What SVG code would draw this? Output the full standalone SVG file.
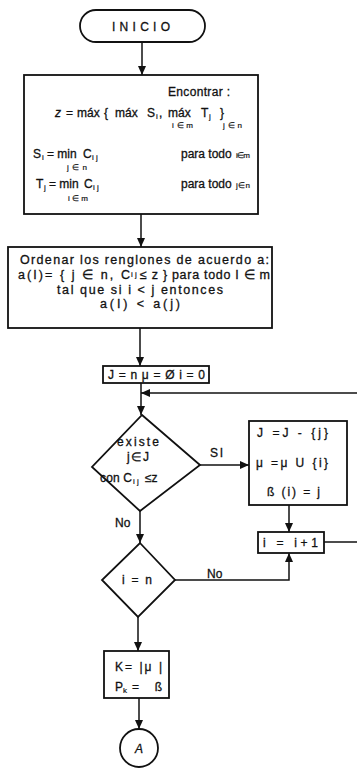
<svg xmlns="http://www.w3.org/2000/svg" width="357" height="769" viewBox="0 0 357 769">
<defs>
<marker id="arrow" markerWidth="9" markerHeight="8" refX="9" refY="4" orient="auto" markerUnits="userSpaceOnUse">
<path d="M0,0 L9,4 L0,8 z" fill="#111"/>
</marker>
<style>
.shape{fill:#fff;stroke:#111;stroke-width:1.8}
.line{fill:none;stroke:#111;stroke-width:1.5}
text{font-family:"Liberation Sans",Arial,sans-serif;font-size:12px;fill:#111;stroke:#111;stroke-width:0.3}
.sm{font-size:8px;stroke-width:0.2}
.c{text-anchor:middle}
.it{font-style:italic}
.big{font-size:12.5px}
</style>
</defs>
<rect width="357" height="769" fill="#fff"/>

<!-- connectors -->
<g id="connectors">
<line class="line" x1="142" y1="42" x2="142" y2="75" marker-end="url(#arrow)"/>
<line class="line" x1="141" y1="214" x2="141" y2="247" marker-end="url(#arrow)"/>
<line class="line" x1="140" y1="328" x2="140" y2="366" marker-end="url(#arrow)"/>
<line class="line" x1="141" y1="383" x2="141" y2="415" marker-end="url(#arrow)"/>
<line class="line" x1="357" y1="393" x2="141" y2="393" marker-end="url(#arrow)"/>
<line class="line" x1="200" y1="465" x2="249" y2="465" marker-end="url(#arrow)"/>
<line class="line" x1="289" y1="505" x2="289" y2="532" marker-end="url(#arrow)"/>
<line class="line" x1="324" y1="542" x2="357" y2="542"/>
<line class="line" x1="140" y1="511" x2="140" y2="543" marker-end="url(#arrow)"/>
<polyline class="line" points="175,580 289,580 289,553" marker-end="url(#arrow)"/>
<line class="line" x1="138" y1="617" x2="138" y2="651" marker-end="url(#arrow)"/>
<line class="line" x1="139" y1="698" x2="139" y2="729" marker-end="url(#arrow)"/>
<text x="210" y="457" textLength="13" lengthAdjust="spacing">SI</text>
<text x="115" y="527">No</text>
<text x="207" y="578">No</text>
</g>

<g id="inicio">
<rect class="shape" x="80" y="10" width="125" height="32" rx="16"/>
<text x="112" y="31" textLength="58" lengthAdjust="spacing">INICIO</text>
</g>

<g id="encontrar">
<rect class="shape" x="24" y="75" width="234" height="139"/>
<text x="168" y="96" textLength="62" lengthAdjust="spacing">Encontrar :</text>
<!-- z = max { max S_i , max T_j } -->
<text class="it" x="55" y="117">z</text>
<text x="66" y="117">=</text>
<text x="77" y="117">máx</text>
<text x="104" y="117">{</text>
<text x="115" y="117">máx</text>
<text x="147" y="117">S</text>
<text class="sm" x="156" y="119">i</text>
<text x="159" y="117">,</text>
<text x="168" y="117">máx</text>
<text x="201" y="117">T</text>
<text class="sm" x="209" y="119">j</text>
<text x="220" y="117">}</text>
<text class="sm" x="172" y="128" textLength="21" lengthAdjust="spacing">i∈m</text>
<text class="sm" x="223" y="128" textLength="19" lengthAdjust="spacing">j∈n</text>
<!-- S_i -->
<text x="33" y="158">S</text>
<text class="sm" x="42" y="160">i</text>
<text x="47" y="158">= min</text>
<text x="83" y="158">C</text>
<text class="sm" x="92" y="160">i j</text>
<text class="sm" x="67" y="170" textLength="20" lengthAdjust="spacing">j∈n</text>
<text x="181" y="158">para todo</text>
<text class="sm" x="236" y="158" textLength="14" lengthAdjust="spacing">i∈m</text>
<!-- T_j -->
<text x="36" y="188">T</text>
<text class="sm" x="44" y="190">j</text>
<text x="49" y="188">= min</text>
<text x="84" y="188">C</text>
<text class="sm" x="93" y="190">i j</text>
<text class="sm" x="68" y="201" textLength="20" lengthAdjust="spacing">i∈m</text>
<text x="181" y="188">para todo</text>
<text class="sm" x="236" y="188" textLength="14" lengthAdjust="spacing">j∈n</text>
</g>

<g id="ordenar">
<rect class="shape" x="8" y="247" width="264" height="81"/>
<text class="big" x="20" y="264" textLength="249" lengthAdjust="spacing">Ordenar los renglones de acuerdo a:</text>
<text class="big" x="18" y="279" textLength="112" lengthAdjust="spacing">a(I)= { j ∈ n, C</text>
<text class="sm" x="131" y="277">i j</text>
<text class="big" x="140" y="279" textLength="130" lengthAdjust="spacing">≤ z } para todo I ∈ m</text>
<text class="big" x="57" y="294" textLength="166" lengthAdjust="spacing">tal que si i &lt; j  entonces</text>
<text class="big" x="100" y="308" textLength="80" lengthAdjust="spacing">a(I)  &lt;  a(j)</text>
</g>

<g id="init">
<rect class="shape" x="103" y="366" width="106" height="17"/>
<text x="108" y="379" textLength="97" lengthAdjust="spacing">J = n  μ = Ø  i = 0</text>
</g>

<g id="existe">
<polygon class="shape" points="142,415 200,465 140,511 92,467"/>
<text x="117" y="446" textLength="42" lengthAdjust="spacing">existe</text>
<text x="127" y="461" textLength="22" lengthAdjust="spacing">j ∈ J</text>
<text x="100" y="482" textLength="32" lengthAdjust="spacing">con C</text>
<text class="sm" x="133" y="484">i j</text>
<text x="145" y="482">≤z</text>
</g>

<g id="update">
<rect class="shape" x="249" y="421" width="98" height="84"/>
<text x="257" y="437" textLength="71" lengthAdjust="spacing">J =J   - {j}</text>
<text x="256" y="467" textLength="72" lengthAdjust="spacing">μ =μ   U {i}</text>
<text x="267" y="496" textLength="53" lengthAdjust="spacing">ß (i)  =  j</text>
</g>

<g id="incr">
<rect class="shape" x="258" y="532" width="66" height="21"/>
<text x="263" y="547" textLength="55" lengthAdjust="spacing">i  =  i+1</text>
</g>

<g id="fin">
<polygon class="shape" points="140,543 175,580 138,617 102,580"/>
<text x="122" y="584" textLength="30" lengthAdjust="spacing">i = n</text>
</g>

<g id="result">
<rect class="shape" x="104" y="651" width="65" height="47"/>
<text x="115" y="671" textLength="47" lengthAdjust="spacing">K= |μ |</text>
<text x="115" y="691">P</text>
<text class="sm" x="123" y="693">k</text>
<text x="132" y="691" textLength="30" lengthAdjust="spacing">=  ß</text>
</g>

<g id="connector-a">
<circle class="shape" cx="139" cy="748" r="19"/>
<text class="c it" x="139" y="753">A</text>
</g>
</svg>
